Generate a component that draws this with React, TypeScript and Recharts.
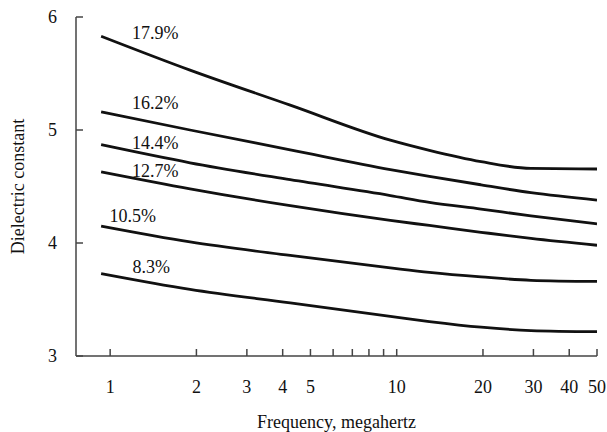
import React from 'react';
import { LineChart, Line, XAxis, YAxis, ReferenceDot } from 'recharts';

const freq = [0.93, 1.9, 4.25, 9.5, 13, 19.7, 29.4, 50];
const m179 = [5.83, 5.53, 5.22, 4.91, 4.82, 4.72, 4.66, 4.655];
const m162 = [5.16, 5.0, 4.825, 4.65, 4.59, 4.515, 4.445, 4.38];
const m144 = [4.87, 4.71, 4.56, 4.42, 4.36, 4.3, 4.24, 4.17];
const m127 = [4.63, 4.48, 4.33, 4.2, 4.155, 4.095, 4.04, 3.98];
const m105 = [4.15, 4.01, 3.89, 3.78, 3.74, 3.7, 3.67, 3.66];
const m83 = [3.73, 3.59, 3.47, 3.35, 3.305, 3.255, 3.225, 3.215];

const seriesKeys = ['m179', 'm162', 'm144', 'm127', 'm105', 'm83'];
const seriesValues = [m179, m162, m144, m127, m105, m83];
const seriesNames = ['17.9%', '16.2%', '14.4%', '12.7%', '10.5%', '8.3%'];
const labelX = [1.436, 1.436, 1.436, 1.436, 1.199, 1.39];
const labelY = [5.858, 5.242, 4.888, 4.64, 4.239, 3.79];

const xTicks = [1, 2, 3, 4, 5, 6, 7, 8, 9, 10, 20, 30, 40, 50];
const xLabeled = [1, 2, 3, 4, 5, 10, 20, 30, 40, 50];
const yTicks = [3, 4, 5, 6];

const data = freq.map((f, i) => {
  const row: any = { f };
  seriesKeys.forEach((k, j) => {
    row[k] = seriesValues[j][i];
  });
  return row;
});

const FONT = '"Liberation Serif", "Times New Roman", serif';
const TEXT = '#111';
const AXIS = '#444';

const XTick = (props: any) => {
  const { x, y, payload } = props;
  const v = payload.value;
  return (
    <g>
      <line x1={x} x2={x} y1={y} y2={y - 7} stroke={AXIS} strokeWidth={1.5} />
      {xLabeled.includes(v) && (
        <text x={x} y={y + 37} textAnchor="middle" fontFamily={FONT} fontSize={18} fill={TEXT}>
          {v}
        </text>
      )}
    </g>
  );
};

const YTick = (props: any) => {
  const { x, y, payload } = props;
  return (
    <g>
      <line x1={x} x2={x + 7} y1={y} y2={y} stroke={AXIS} strokeWidth={1.5} />
      <text x={x - 19} y={y + 6} textAnchor="end" fontFamily={FONT} fontSize={18} fill={TEXT}>
        {payload.value}
      </text>
    </g>
  );
};

const YTitle = (props: any) => {
  const vb = props.viewBox || { x: 0, y: 9, width: 68, height: 339 };
  const cx = vb.x + 9.5;
  const cy = vb.y + vb.height / 2;
  return (
    <text
      x={cx}
      y={cy}
      transform={`rotate(-90 ${cx} ${cy})`}
      textAnchor="middle"
      dominantBaseline="central"
      fontFamily={FONT}
      fontSize={18}
      fill={TEXT}
    >
      Dielectric constant
    </text>
  );
};

const XTitle = (props: any) => {
  const vb = props.viewBox || { x: 68, y: 348, width: 521, height: 76 };
  const cx = vb.x + vb.width / 2;
  return (
    <text x={cx} y={vb.y + 72} textAnchor="middle" fontFamily={FONT} fontSize={18} fill={TEXT}>
      Frequency, megahertz
    </text>
  );
};

export default function App() {
  return (
    <div style={{ width: 599, height: 424 }}>
      <style>{'html, body { overflow: hidden; } body { width: 599px; } #root { width: 599px; } svg { overflow: visible; }'}</style>
      <LineChart
        width={599}
        height={424}
        data={data}
        margin={{ top: 9, right: 10, left: 0, bottom: 0 }}
      >
        <XAxis
          dataKey="f"
          type="number"
          scale="log"
          domain={[0.76, 50]}
          allowDataOverflow
          ticks={xTicks}
          interval={0}
          height={76}
          tickSize={0}
          tickMargin={0}
          tickLine={false}
          axisLine={{ stroke: AXIS, strokeWidth: 1.5 }}
          tick={<XTick />}
          label={<XTitle />}
        />
        <YAxis
          type="number"
          domain={[3, 6]}
          ticks={yTicks}
          interval={0}
          width={68}
          tickSize={0}
          tickMargin={0}
          tickLine={false}
          axisLine={{ stroke: AXIS, strokeWidth: 1.5 }}
          tick={<YTick />}
          label={<YTitle />}
        />
        {seriesKeys.map((k) => (
          <Line
            key={k}
            type="monotone"
            dataKey={k}
            stroke="#111"
            strokeWidth={2.8}
            dot={false}
            activeDot={false}
            isAnimationActive={false}
          />
        ))}
        {seriesNames.map((n, i) => (
          <ReferenceDot
            key={n}
            x={labelX[i]}
            y={labelY[i]}
            r={1}
            fill="none"
            stroke="none"
            label={{ value: n, position: 'center', fontFamily: FONT, fontSize: 18, fill: TEXT }}
          />
        ))}
      </LineChart>
    </div>
  );
}
